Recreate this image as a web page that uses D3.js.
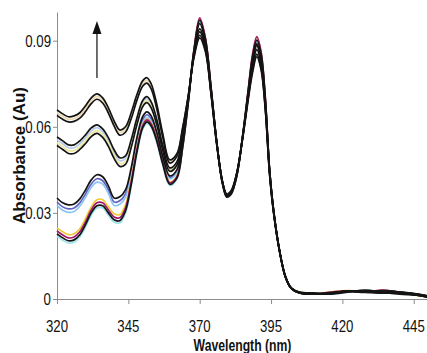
<!DOCTYPE html>
<html>
<head>
<meta charset="utf-8">
<script src="https://cdn.jsdelivr.net/npm/d3@7"></script>
<style>
  html, body { margin: 0; padding: 0; background: #fff; }
  svg { display: block; }
  text { font-family: "Liberation Sans", Arial, sans-serif; fill: #111; }
</style>
</head>
<body>
<svg id="chart" width="427" height="353"></svg>
<script>
// Wavelength grid (nm) shared by every scan
const wavelength = [320,322,324,326,328,330,332,334,336,338,
  340,342,344,346,348,350,351.5,353,355,357,
  359.5,362,364,366,368,370,372,374,376,378,
  379.5,381,383,385,387,388.5,390,391.5,393,394.5,
  396,398,400,402,405,410,416,422,428,434,
  440,446,450];

// Absorbance (Au) of each scan
const scanA1 = [0.0659,0.0645,0.0635,0.0638,0.0649,0.0673,0.0701,0.0715,0.0701,0.0666,0.0621,0.0589,0.0600,0.0649,0.0712,0.0760,0.0771,0.0750,0.0677,0.0579,0.0485,0.0506,0.0596,0.0708,0.0841,0.0910,0.0862,0.0712,0.0537,0.0408,0.0366,0.0377,0.0439,0.0555,0.0694,0.0788,0.0844,0.0799,0.0659,0.0433,0.0293,0.0164,0.0077,0.0038,0.0021,0.0017,0.0021,0.0028,0.0024,0.0021,0.0021,0.0014,0.0007];
const scanA2 = [0.0640,0.0626,0.0617,0.0619,0.0630,0.0653,0.0681,0.0696,0.0683,0.0648,0.0603,0.0571,0.0581,0.0628,0.0692,0.0741,0.0752,0.0732,0.0661,0.0566,0.0474,0.0497,0.0590,0.0708,0.0847,0.0919,0.0869,0.0714,0.0536,0.0405,0.0363,0.0375,0.0440,0.0560,0.0701,0.0797,0.0853,0.0806,0.0662,0.0434,0.0292,0.0165,0.0079,0.0039,0.0022,0.0018,0.0019,0.0026,0.0025,0.0020,0.0022,0.0013,0.0006];
const scanA3 = [0.0650,0.0636,0.0626,0.0629,0.0640,0.0663,0.0691,0.0706,0.0692,0.0657,0.0612,0.0580,0.0591,0.0639,0.0702,0.0751,0.0762,0.0741,0.0669,0.0573,0.0480,0.0502,0.0593,0.0708,0.0844,0.0915,0.0866,0.0713,0.0537,0.0407,0.0365,0.0376,0.0440,0.0558,0.0698,0.0793,0.0849,0.0803,0.0661,0.0434,0.0293,0.0165,0.0078,0.0039,0.0022,0.0019,0.0022,0.0029,0.0026,0.0023,0.0022,0.0015,0.0008];
const scanB1 = [0.0565,0.0551,0.0537,0.0537,0.0551,0.0572,0.0596,0.0607,0.0593,0.0562,0.0520,0.0492,0.0499,0.0555,0.0631,0.0691,0.0705,0.0687,0.0624,0.0537,0.0457,0.0478,0.0572,0.0701,0.0851,0.0931,0.0875,0.0719,0.0541,0.0408,0.0363,0.0373,0.0436,0.0558,0.0705,0.0809,0.0869,0.0820,0.0673,0.0440,0.0296,0.0167,0.0077,0.0038,0.0024,0.0021,0.0017,0.0024,0.0031,0.0024,0.0017,0.0014,0.0010];
const scanB2 = [0.0555,0.0541,0.0527,0.0527,0.0541,0.0562,0.0586,0.0597,0.0583,0.0552,0.0510,0.0482,0.0489,0.0546,0.0623,0.0684,0.0698,0.0680,0.0617,0.0531,0.0453,0.0474,0.0569,0.0699,0.0852,0.0935,0.0879,0.0721,0.0542,0.0408,0.0362,0.0372,0.0436,0.0559,0.0708,0.0813,0.0874,0.0824,0.0676,0.0442,0.0297,0.0168,0.0078,0.0039,0.0024,0.0020,0.0018,0.0025,0.0030,0.0023,0.0018,0.0013,0.0009];
const scanB3 = [0.0545,0.0531,0.0517,0.0517,0.0531,0.0552,0.0576,0.0587,0.0573,0.0542,0.0500,0.0472,0.0479,0.0537,0.0615,0.0677,0.0691,0.0673,0.0611,0.0526,0.0449,0.0470,0.0566,0.0698,0.0853,0.0938,0.0882,0.0723,0.0543,0.0408,0.0361,0.0371,0.0436,0.0560,0.0711,0.0817,0.0879,0.0828,0.0679,0.0444,0.0298,0.0168,0.0079,0.0040,0.0025,0.0021,0.0019,0.0026,0.0029,0.0022,0.0019,0.0012,0.0008];
const scanB4 = [0.0535,0.0521,0.0507,0.0507,0.0521,0.0542,0.0566,0.0577,0.0563,0.0532,0.0490,0.0462,0.0469,0.0528,0.0607,0.0670,0.0684,0.0666,0.0605,0.0521,0.0445,0.0466,0.0563,0.0697,0.0854,0.0941,0.0885,0.0725,0.0544,0.0407,0.0360,0.0370,0.0435,0.0561,0.0714,0.0821,0.0884,0.0832,0.0682,0.0445,0.0299,0.0169,0.0079,0.0040,0.0023,0.0019,0.0020,0.0027,0.0028,0.0021,0.0020,0.0013,0.0007];
const scanC1 = [0.0352,0.0335,0.0328,0.0331,0.0349,0.0380,0.0415,0.0433,0.0426,0.0394,0.0352,0.0356,0.0380,0.0457,0.0562,0.0635,0.0652,0.0638,0.0579,0.0499,0.0429,0.0450,0.0548,0.0694,0.0862,0.0959,0.0896,0.0729,0.0544,0.0405,0.0359,0.0370,0.0433,0.0562,0.0719,0.0834,0.0889,0.0841,0.0687,0.0446,0.0300,0.0167,0.0080,0.0038,0.0021,0.0017,0.0021,0.0028,0.0024,0.0028,0.0024,0.0017,0.0010];
const scanC2 = [0.0338,0.0321,0.0314,0.0317,0.0335,0.0366,0.0401,0.0419,0.0412,0.0380,0.0338,0.0342,0.0366,0.0443,0.0549,0.0624,0.0642,0.0628,0.0570,0.0492,0.0424,0.0445,0.0546,0.0695,0.0866,0.0965,0.0901,0.0731,0.0544,0.0404,0.0358,0.0369,0.0433,0.0563,0.0722,0.0838,0.0894,0.0845,0.0690,0.0447,0.0300,0.0167,0.0080,0.0038,0.0022,0.0018,0.0020,0.0027,0.0025,0.0027,0.0023,0.0016,0.0009];
const scanC3 = [0.0326,0.0309,0.0302,0.0305,0.0323,0.0354,0.0389,0.0407,0.0400,0.0368,0.0326,0.0330,0.0354,0.0431,0.0537,0.0613,0.0632,0.0619,0.0562,0.0485,0.0419,0.0441,0.0544,0.0695,0.0869,0.0970,0.0905,0.0733,0.0544,0.0403,0.0357,0.0368,0.0433,0.0564,0.0725,0.0842,0.0898,0.0849,0.0693,0.0448,0.0301,0.0168,0.0081,0.0039,0.0023,0.0019,0.0021,0.0026,0.0026,0.0026,0.0022,0.0015,0.0008];
const scanD1 = [0.0248,0.0234,0.0224,0.0227,0.0245,0.0280,0.0321,0.0346,0.0346,0.0321,0.0297,0.0294,0.0328,0.0417,0.0527,0.0607,0.0627,0.0613,0.0558,0.0481,0.0408,0.0428,0.0531,0.0687,0.0867,0.0977,0.0908,0.0735,0.0544,0.0402,0.0357,0.0367,0.0430,0.0565,0.0728,0.0849,0.0911,0.0860,0.0700,0.0450,0.0301,0.0168,0.0081,0.0039,0.0022,0.0018,0.0025,0.0029,0.0025,0.0030,0.0023,0.0016,0.0011];
const scanD2 = [0.0237,0.0223,0.0213,0.0216,0.0234,0.0269,0.0310,0.0335,0.0335,0.0310,0.0286,0.0283,0.0317,0.0408,0.0520,0.0603,0.0624,0.0610,0.0555,0.0478,0.0405,0.0426,0.0530,0.0687,0.0869,0.0980,0.0910,0.0736,0.0544,0.0401,0.0356,0.0366,0.0429,0.0565,0.0729,0.0851,0.0914,0.0862,0.0701,0.0450,0.0300,0.0167,0.0080,0.0038,0.0021,0.0017,0.0024,0.0028,0.0024,0.0031,0.0024,0.0017,0.0010];
const scanD3 = [0.0227,0.0213,0.0203,0.0206,0.0224,0.0259,0.0300,0.0325,0.0325,0.0300,0.0276,0.0273,0.0307,0.0399,0.0512,0.0596,0.0617,0.0603,0.0549,0.0473,0.0400,0.0421,0.0526,0.0684,0.0865,0.0972,0.0905,0.0733,0.0543,0.0401,0.0355,0.0365,0.0428,0.0563,0.0724,0.0842,0.0902,0.0855,0.0697,0.0448,0.0299,0.0166,0.0079,0.0038,0.0021,0.0017,0.0022,0.0027,0.0023,0.0029,0.0025,0.0018,0.0010];
const scanD4 = [0.0219,0.0205,0.0195,0.0198,0.0216,0.0251,0.0292,0.0317,0.0317,0.0292,0.0268,0.0265,0.0299,0.0392,0.0506,0.0591,0.0612,0.0598,0.0544,0.0468,0.0396,0.0418,0.0524,0.0683,0.0864,0.0970,0.0903,0.0732,0.0543,0.0401,0.0354,0.0364,0.0427,0.0562,0.0722,0.0839,0.0898,0.0851,0.0694,0.0447,0.0298,0.0166,0.0079,0.0038,0.0021,0.0017,0.0021,0.0026,0.0024,0.0028,0.0024,0.0017,0.0010];

// Axis ticks
const xTickValues = [320, 345, 370, 395, 420, 445];
const yTickValues = [0, 0.03, 0.06, 0.09];
const yTickLabels = ["0", "0.03", "0.06", "0.09"];

// Direction-of-change arrow: wavelength and absorbance span
const arrowWavelength = 334;
const arrowFrom = 0.0770;
const arrowTo = 0.0955;

// Scan list with its line colour (coloured traces underneath, black on top)
const scans = [
  { values: scanA3, color: "#ecd9b0" },
  { values: scanB2, color: "#b6ccee" },
  { values: scanB3, color: "#eee89a" },
  { values: scanC2, color: "#6262c6" },
  { values: scanC3, color: "#8cc6ee" },
  { values: scanD1, color: "#eccb36" },
  { values: scanD4, color: "#9ce4ec" },
  { values: scanD2, color: "#a0186e" },
  { values: scanA1, color: "#141414" },
  { values: scanA2, color: "#141414" },
  { values: scanB1, color: "#141414" },
  { values: scanB4, color: "#141414" },
  { values: scanC1, color: "#141414" },
  { values: scanD3, color: "#141414" }
];

const svg = d3.select("#chart");
const x = d3.scaleLinear().domain([320, 450]).range([57, 428]);
const y = d3.scaleLinear().domain([0, 0.1]).range([299, 12]);

// Axes
const axisColor = "#8c8c8c";
const xAxis = svg.append("g")
  .attr("transform", `translate(0,${y(0)})`)
  .call(d3.axisBottom(x).tickValues(xTickValues).tickSize(5).tickSizeOuter(0).tickFormat(""));
const yAxis = svg.append("g")
  .attr("transform", `translate(${x(320)},0)`)
  .call(d3.axisLeft(y).tickValues(yTickValues).tickSize(4).tickSizeOuter(0).tickFormat(""));
[xAxis, yAxis].forEach(g => {
  g.selectAll("path.domain").attr("stroke", axisColor).attr("stroke-width", 1);
  g.selectAll(".tick line").attr("stroke", axisColor).attr("stroke-width", 1);
});

// Tick labels (narrow face)
svg.append("g").selectAll("text")
  .data(xTickValues)
  .join("text")
  .attr("transform", d => `translate(${x(d)},${y(0) + 33}) scale(0.8,1)`)
  .attr("text-anchor", "middle")
  .style("font-size", "16.5px")
  .text(d => d);

svg.append("g").selectAll("text")
  .data(yTickValues)
  .join("text")
  .attr("transform", d => `translate(${x(320) - 6},${y(d) + 6}) scale(0.78,1)`)
  .attr("text-anchor", "end")
  .style("font-size", "17px")
  .text((d, i) => yTickLabels[i]);

// Axis titles
svg.append("text")
  .attr("transform", `translate(${(x(320) + x(450)) / 2},351) scale(0.74,1)`)
  .attr("text-anchor", "middle")
  .style("font-size", "16.5px")
  .style("font-weight", "bold")
  .text("Wavelength (nm)");

svg.append("text")
  .attr("transform", `translate(25,${y(0.05)}) rotate(-90)`)
  .attr("text-anchor", "middle")
  .style("font-size", "17px")
  .style("font-weight", "bold")
  .text("Absorbance (Au)");

// Spectra
const line = d3.line()
  .x(d => x(d[0]))
  .y(d => y(d[1]))
  .curve(d3.curveCatmullRom.alpha(0.5));

svg.append("g").selectAll("path")
  .data(scans)
  .join("path")
  .attr("fill", "none")
  .attr("stroke", d => d.color)
  .attr("stroke-width", 1.7)
  .attr("stroke-linejoin", "round")
  .attr("d", d => line(wavelength.map((w, i) => [w, d.values[i]]).filter(p => p[1] != null)));

// Arrow showing the direction of change
const ax = x(arrowWavelength);
svg.append("line")
  .attr("x1", ax).attr("x2", ax)
  .attr("y1", y(arrowFrom)).attr("y2", y(arrowTo) + 8)
  .attr("stroke", "#222").attr("stroke-width", 1.3);
svg.append("path")
  .attr("d", `M${ax},${y(arrowTo) - 4} L${ax - 4.5},${y(arrowTo) + 9} L${ax + 4.5},${y(arrowTo) + 9} Z`)
  .attr("fill", "#111");
</script>
</body>
</html>
